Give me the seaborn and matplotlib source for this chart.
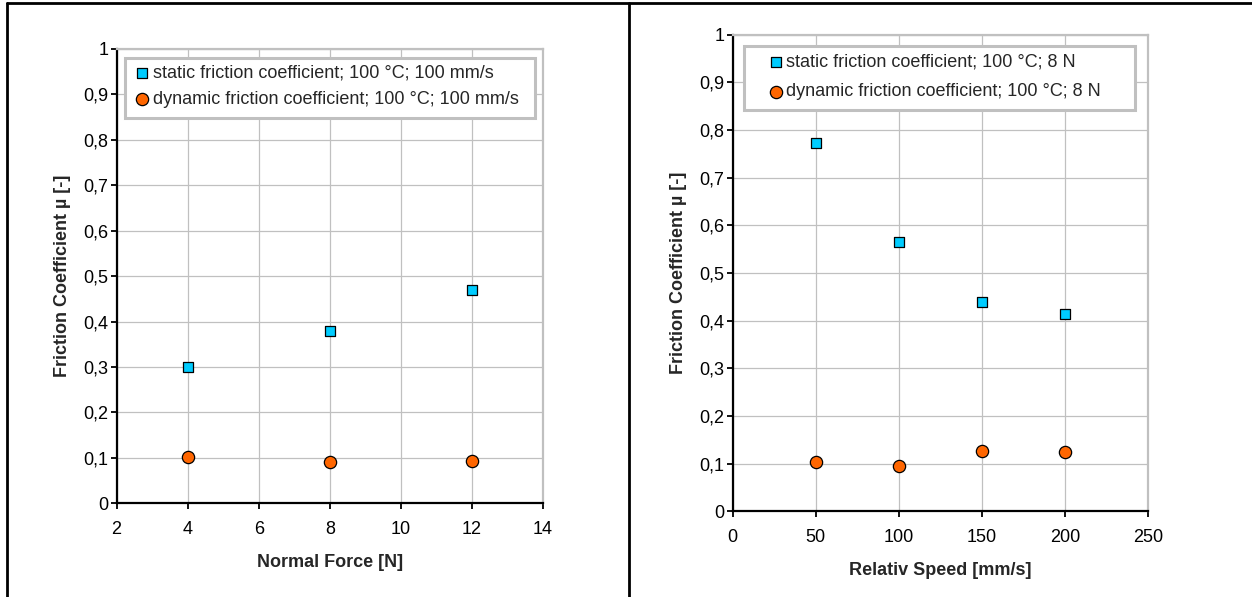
import matplotlib
matplotlib.use("Agg")
import matplotlib.pyplot as plt
import seaborn as sns
import pandas as pd
from matplotlib.lines import Line2D
from matplotlib.patches import Rectangle
from matplotlib.ticker import FuncFormatter, MultipleLocator

# --- data ---
force_n = [4, 8, 12]
force_static = [0.30, 0.38, 0.47]
force_dynamic = [0.102, 0.090, 0.093]

speed_mm_s = [50, 100, 150, 200]
speed_static = [0.772, 0.565, 0.440, 0.415]
speed_dynamic = [0.103, 0.096, 0.127, 0.124]

force_labels = ["static friction coefficient; 100 °C; 100 mm/s",
                "dynamic friction coefficient; 100 °C; 100 mm/s"]
speed_labels = ["static friction coefficient; 100 °C; 8 N",
                "dynamic friction coefficient; 100 °C; 8 N"]

STATIC_COLOR = "#00CCFF"
DYNAMIC_COLOR = "#FF6600"
GRID = "#C0C0C0"
FS = 13

sns.set_style("whitegrid")
plt.rcParams["font.family"] = ["Liberation Sans", "DejaVu Sans"]
plt.rcParams["font.size"] = FS


def decimal_comma(v, _):
    return f"{round(v, 2):g}".replace(".", ",")


def style_axes(ax, xlim, xstep, xlabel):
    ax.set_xlim(*xlim)
    ax.set_ylim(0, 1)
    ax.xaxis.set_major_locator(MultipleLocator(xstep))
    ax.yaxis.set_major_locator(MultipleLocator(0.1))
    ax.yaxis.set_major_formatter(FuncFormatter(decimal_comma))
    ax.grid(True, color=GRID, linewidth=0.9)
    ax.set_axisbelow(True)
    for side in ["left", "bottom"]:
        ax.spines[side].set_color("black")
        ax.spines[side].set_linewidth(1.6)
    for side in ["top", "right"]:
        ax.spines[side].set_color(GRID)
        ax.spines[side].set_linewidth(1.6)
    ax.tick_params(axis="both", which="major", direction="out", length=4,
                   width=1.3, color="black", labelsize=FS, labelcolor="black",
                   left=True, bottom=True)
    ax.tick_params(axis="x", pad=9)
    ax.tick_params(axis="y", pad=2)
    ax.set_xlabel(xlabel, fontweight="bold", fontsize=FS, labelpad=11)
    ax.set_ylabel("Friction Coefficient µ [-]", fontweight="bold", fontsize=FS,
                  labelpad=9)


def draw_panel(ax, x, static, dynamic, labels):
    df = pd.DataFrame({"x": x, "static": static, "dynamic": dynamic})
    sns.scatterplot(data=df, x="x", y="static", ax=ax, marker="s", s=45,
                    color=STATIC_COLOR, edgecolor="black", linewidth=0.9,
                    label=labels[0], zorder=3)
    sns.scatterplot(data=df, x="x", y="dynamic", ax=ax, marker="o", s=78,
                    color=DYNAMIC_COLOR, edgecolor="black", linewidth=0.9,
                    label=labels[1], zorder=3)


fig = plt.figure(figsize=(12.52, 5.97), dpi=100)
ax1 = fig.add_axes([0.0931, 0.1568, 0.3406, 0.7616])
ax2 = fig.add_axes([0.5851, 0.1434, 0.3318, 0.7985])

draw_panel(ax1, force_n, force_static, force_dynamic, force_labels)
draw_panel(ax2, speed_mm_s, speed_static, speed_dynamic, speed_labels)

style_axes(ax1, (2, 14), 2, "Normal Force [N]")
style_axes(ax2, (0, 250), 50, "Relativ Speed [mm/s]")

# legend boxes (Excel style: square grey frame)
legend_cfg = [
    (ax1, (0.0188, 0.8476, 0.9636, 0.1322), (0.0434, 0.9177), 0.5),
    (ax2, (0.027, 0.8412, 0.941, 0.1351), (0.0864, 0.9113), 0.7),
]
for ax, box, anchor, spacing in legend_cfg:
    ax.add_patch(Rectangle(box[:2], box[2], box[3], transform=ax.transAxes,
                           facecolor="white", edgecolor=GRID, linewidth=2.2,
                           zorder=4, clip_on=False))
    handles, labels = ax.get_legend_handles_labels()
    ax.legend(handles, labels, loc="center left", bbox_to_anchor=anchor,
              frameon=False, fontsize=FS, borderpad=0, borderaxespad=0,
              handlelength=0.8, handletextpad=0.2, labelspacing=spacing)
    ax.get_legend().set_zorder(5)

# outer frame lines
for xs, ys in [([7 / 1252, 7 / 1252], [0, 1 - 3 / 597]),
               ([7 / 1252, 1], [1 - 3 / 597, 1 - 3 / 597]),
               ([629 / 1252, 629 / 1252], [0, 1 - 3 / 597])]:
    fig.add_artist(Line2D(xs, ys, transform=fig.transFigure, color="black",
                          linewidth=2))

fig.savefig("out.png", dpi=100)
